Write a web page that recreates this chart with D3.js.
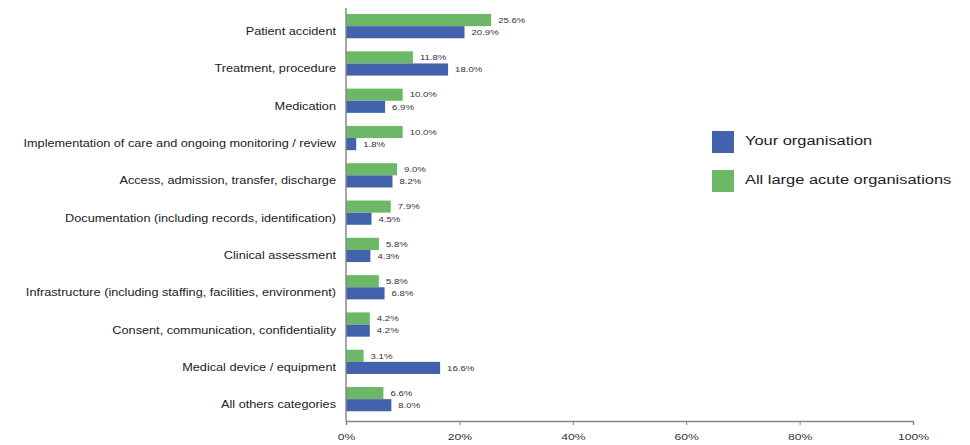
<!DOCTYPE html>
<html>
<head>
<meta charset="utf-8">
<script src="https://cdn.jsdelivr.net/npm/d3@7"></script>
<style>
  html, body { margin: 0; padding: 0; background: #ffffff; }
  svg { display: block; font-family: Arial, "Liberation Sans", sans-serif; }
</style>
</head>
<body>
<svg id="chart" width="970" height="445"></svg>
<script>
// Incident categories, top to bottom
const categories = [
  "Patient accident",
  "Treatment, procedure",
  "Medication",
  "Implementation of care and ongoing monitoring / review",
  "Access, admission, transfer, discharge",
  "Documentation (including records, identification)",
  "Clinical assessment",
  "Infrastructure (including staffing, facilities, environment)",
  "Consent, communication, confidentiality",
  "Medical device / equipment",
  "All others categories"
];

// Percentage of reported incidents
const yourOrganisation = [20.9, 18.0, 6.9, 1.8, 8.2, 4.5, 4.3, 6.8, 4.2, 16.6, 8.0];
const allLargeAcute    = [25.6, 11.8, 10.0, 10.0, 9.0, 7.9, 5.8, 5.8, 4.2, 3.1, 6.6];

const seriesNames = ["All large acute organisations", "Your organisation"];
const legendOrder = ["Your organisation", "All large acute organisations"];
const xTicks = [0, 20, 40, 60, 80, 100];

const colors = {
  "Your organisation": "#4263ab",
  "All large acute organisations": "#6cb866"
};

// Text in this chart is set in a horizontally widened face
const stretch = { category: 1.27, value: 1.2, tick: 1.28, legend: 1.37 };

const svg = d3.select("#chart");

const x = d3.scaleLinear().domain([0, 100]).range([346, 913]);
const y = d3.scaleBand().domain(categories).range([7.5, 417.8])
  .paddingInner(0.35).paddingOuter(0.175);
const ySub = d3.scaleBand().domain(seriesNames).range([0, y.bandwidth()]);

const rows = categories.map((c, i) => ({
  category: c,
  values: [
    { series: "All large acute organisations", value: allLargeAcute[i] },
    { series: "Your organisation", value: yourOrganisation[i] }
  ]
}));

// Bars
const groups = svg.append("g").selectAll("g")
  .data(rows).join("g")
  .attr("transform", d => `translate(0,${y(d.category)})`);

groups.selectAll("rect")
  .data(d => d.values).join("rect")
  .attr("x", x(0))
  .attr("y", d => ySub(d.series))
  .attr("width", d => x(d.value) - x(0))
  .attr("height", ySub.bandwidth())
  .attr("fill", d => colors[d.series]);

// Value labels
groups.selectAll("text")
  .data(d => d.values).join("text")
  .attr("transform", d =>
    `translate(${x(d.value) + 7},${ySub(d.series) + ySub.bandwidth() / 2}) scale(${stretch.value},1)`)
  .attr("dy", "0.35em")
  .attr("font-size", 8)
  .attr("fill", "#333")
  .text(d => d.value.toFixed(1) + "%");

// Category labels
svg.append("g").selectAll("text")
  .data(categories).join("text")
  .attr("transform", d =>
    `translate(336,${y(d) + y.bandwidth() / 2 + 5.5}) scale(${stretch.category},1)`)
  .attr("dy", "0.35em")
  .attr("text-anchor", "end")
  .attr("font-size", 10)
  .attr("fill", "#222")
  .text(d => d);

// Vertical category axis line
svg.append("line")
  .attr("x1", x(0)).attr("x2", x(0))
  .attr("y1", 8).attr("y2", 421)
  .attr("stroke", "#888").attr("stroke-width", 1.5);

// Horizontal percentage axis
const xAxis = d3.axisBottom(x)
  .tickValues(xTicks)
  .tickSize(4)
  .tickPadding(8)
  .tickFormat(d => d + "%");

const gx = svg.append("g")
  .attr("transform", "translate(0,421)")
  .call(xAxis);
gx.select(".domain").attr("stroke", "#888").attr("stroke-width", 1.5);
gx.selectAll(".tick line").attr("stroke", "#888");
gx.selectAll(".tick text")
  .attr("font-size", 9.5)
  .attr("fill", "#333")
  .attr("font-family", "Arial, 'Liberation Sans', sans-serif")
  .attr("transform", `scale(${stretch.tick},1)`);

// Legend
const legend = svg.append("g").selectAll("g")
  .data(legendOrder).join("g")
  .attr("transform", (d, i) => `translate(712,${131 + i * 39})`);
legend.append("rect")
  .attr("width", 22).attr("height", 22)
  .attr("fill", d => colors[d]);
legend.append("text")
  .attr("transform", `translate(33,10) scale(${stretch.legend},1)`)
  .attr("dy", "0.35em")
  .attr("font-size", 12)
  .attr("fill", "#222")
  .text(d => d);
</script>
</body>
</html>
